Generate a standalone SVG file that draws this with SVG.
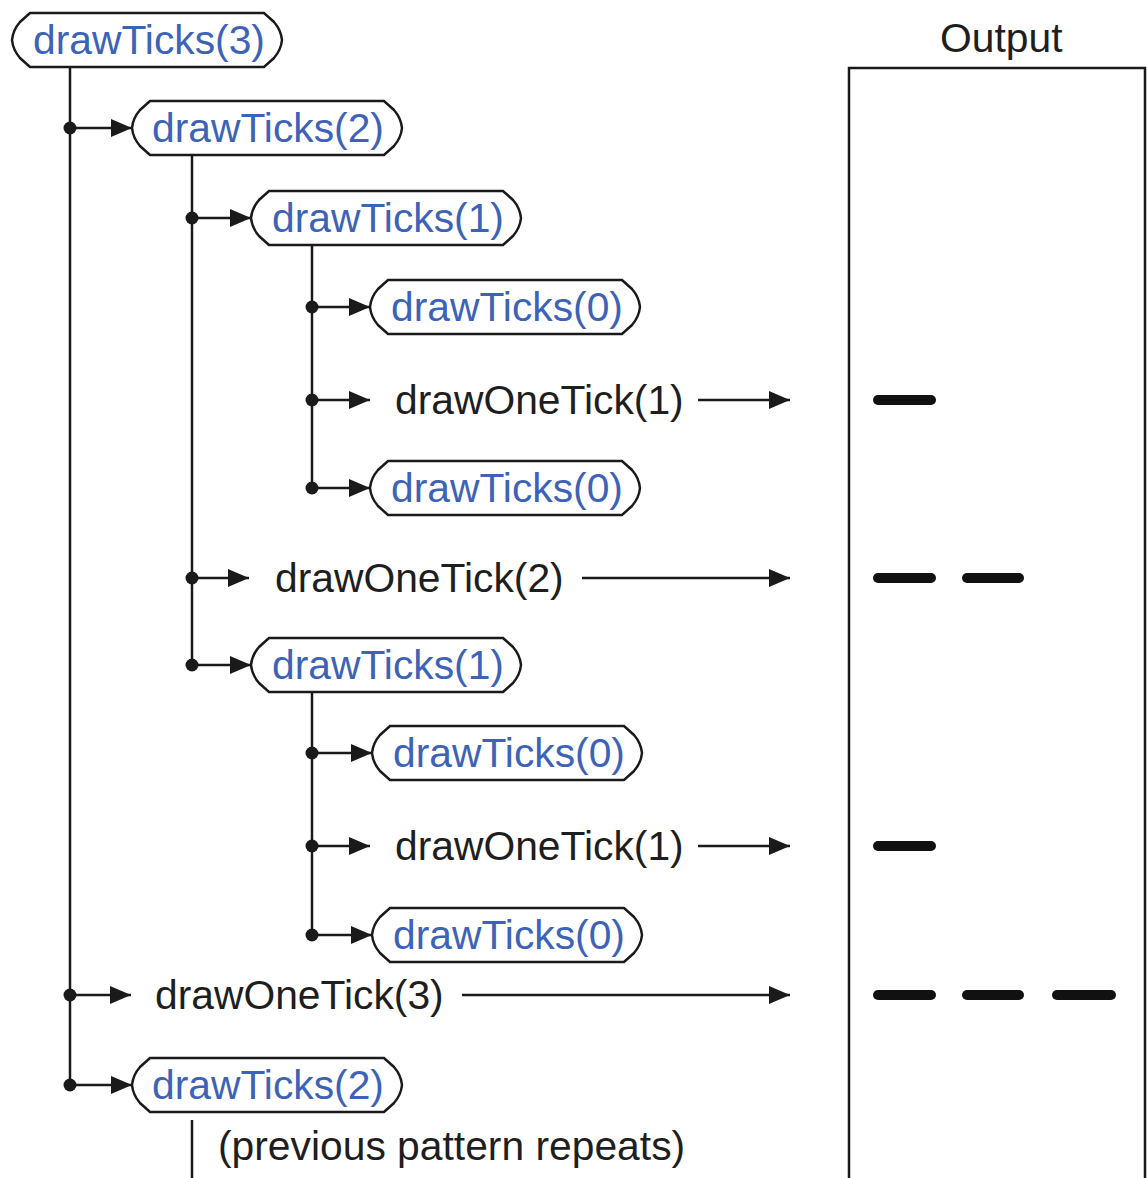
<svg xmlns="http://www.w3.org/2000/svg" width="1147" height="1178" viewBox="0 0 1147 1178">
<style>
  .node { fill: #ffffff; stroke: #1a1a1a; stroke-width: 2.5; }
  .call { font-family: "Liberation Sans", Arial, sans-serif; font-size: 40.8px; fill: #3d63b8; }
  .lbl { font-family: "Liberation Sans", Arial, sans-serif; font-size: 40.8px; fill: #1e1e1e; }
  .line { stroke: #1a1a1a; stroke-width: 2.5; fill: none; }
  .arr { stroke: #1a1a1a; stroke-width: 2.5; fill: none; marker-end: url(#ah); }
  .dot { fill: #1a1a1a; }
  .tick { stroke: #111; stroke-width: 10; stroke-linecap: round; }
</style>
<defs>
  <marker id="ah" markerUnits="userSpaceOnUse" markerWidth="22" markerHeight="20" refX="21" refY="10" orient="auto">
    <path d="M0,1 L21,10 L0,19 Z" fill="#1a1a1a"/>
  </marker>
  <path id="pill" d="M18,0 H252 L262,9 Q269,17 270,27 Q269,37 262,45 L252,54 H18 L8,45 Q1,37 0,27 Q1,17 8,9 Z"/>
</defs>
<rect width="1147" height="1178" fill="#ffffff"/>

<g id="connectors">
  <line class="line" x1="70" y1="67" x2="70" y2="1085"/>
  <line class="line" x1="192" y1="155" x2="192" y2="665"/>
  <line class="line" x1="312" y1="245" x2="312" y2="488"/>
  <line class="line" x1="312" y1="692" x2="312" y2="935"/>
  <line class="line" x1="192" y1="1120" x2="192" y2="1178"/>

  <line class="arr" x1="70" y1="128" x2="132" y2="128"/>
  <line class="arr" x1="192" y1="218" x2="251" y2="218"/>
  <line class="arr" x1="312" y1="307" x2="370" y2="307"/>
  <line class="arr" x1="312" y1="400" x2="370" y2="400"/>
  <line class="arr" x1="312" y1="488" x2="370" y2="488"/>
  <line class="arr" x1="192" y1="578" x2="249" y2="578"/>
  <line class="arr" x1="192" y1="665" x2="251" y2="665"/>
  <line class="arr" x1="312" y1="753" x2="372" y2="753"/>
  <line class="arr" x1="312" y1="846" x2="370" y2="846"/>
  <line class="arr" x1="312" y1="935" x2="372" y2="935"/>
  <line class="arr" x1="70" y1="995" x2="131" y2="995"/>
  <line class="arr" x1="70" y1="1085" x2="132" y2="1085"/>

  <line class="arr" x1="698" y1="400" x2="790" y2="400"/>
  <line class="arr" x1="582" y1="578" x2="790" y2="578"/>
  <line class="arr" x1="698" y1="846" x2="790" y2="846"/>
  <line class="arr" x1="462" y1="995" x2="790" y2="995"/>

  <circle class="dot" cx="70" cy="128" r="6.5"/>
  <circle class="dot" cx="192" cy="218" r="6.5"/>
  <circle class="dot" cx="312" cy="307" r="6.5"/>
  <circle class="dot" cx="312" cy="400" r="6.5"/>
  <circle class="dot" cx="312" cy="488" r="6.5"/>
  <circle class="dot" cx="192" cy="578" r="6.5"/>
  <circle class="dot" cx="192" cy="665" r="6.5"/>
  <circle class="dot" cx="312" cy="753" r="6.5"/>
  <circle class="dot" cx="312" cy="846" r="6.5"/>
  <circle class="dot" cx="312" cy="935" r="6.5"/>
  <circle class="dot" cx="70" cy="995" r="6.5"/>
  <circle class="dot" cx="70" cy="1085" r="6.5"/>
</g>

<g id="dt3"><use href="#pill" class="node" x="12" y="13"/><text class="call" x="33" y="54">drawTicks(3)</text></g>
<g id="dt2a"><use href="#pill" class="node" x="132" y="101"/><text class="call" x="152" y="142">drawTicks(2)</text></g>
<g id="dt1a"><use href="#pill" class="node" x="251" y="191"/><text class="call" x="272" y="232">drawTicks(1)</text></g>
<g id="dt0a"><use href="#pill" class="node" x="370" y="280"/><text class="call" x="391" y="321">drawTicks(0)</text></g>
<g id="ot1a"><text class="lbl" x="395" y="414">drawOneTick(1)</text></g>
<g id="dt0b"><use href="#pill" class="node" x="370" y="461"/><text class="call" x="391" y="502">drawTicks(0)</text></g>
<g id="ot2"><text class="lbl" x="275" y="592">drawOneTick(2)</text></g>
<g id="dt1b"><use href="#pill" class="node" x="251" y="638"/><text class="call" x="272" y="679">drawTicks(1)</text></g>
<g id="dt0c"><use href="#pill" class="node" x="372" y="726"/><text class="call" x="393" y="767">drawTicks(0)</text></g>
<g id="ot1b"><text class="lbl" x="395" y="860">drawOneTick(1)</text></g>
<g id="dt0d"><use href="#pill" class="node" x="372" y="908"/><text class="call" x="393" y="949">drawTicks(0)</text></g>
<g id="ot3"><text class="lbl" x="155" y="1009">drawOneTick(3)</text></g>
<g id="dt2b"><use href="#pill" class="node" x="132" y="1058"/><text class="call" x="152" y="1099">drawTicks(2)</text></g>
<g id="repeat"><text class="lbl" x="218" y="1160">(previous pattern repeats)</text></g>

<g id="output">
  <text class="lbl" x="940" y="52">Output</text>
  <path class="line" d="M849,1178 V68 H1145 V1178"/>
  <line class="tick" x1="878" y1="400" x2="931" y2="400"/>
  <line class="tick" x1="878" y1="578" x2="931" y2="578"/>
  <line class="tick" x1="967" y1="578" x2="1019" y2="578"/>
  <line class="tick" x1="878" y1="846" x2="931" y2="846"/>
  <line class="tick" x1="878" y1="995" x2="931" y2="995"/>
  <line class="tick" x1="967" y1="995" x2="1019" y2="995"/>
  <line class="tick" x1="1057" y1="995" x2="1111" y2="995"/>
</g>
</svg>
